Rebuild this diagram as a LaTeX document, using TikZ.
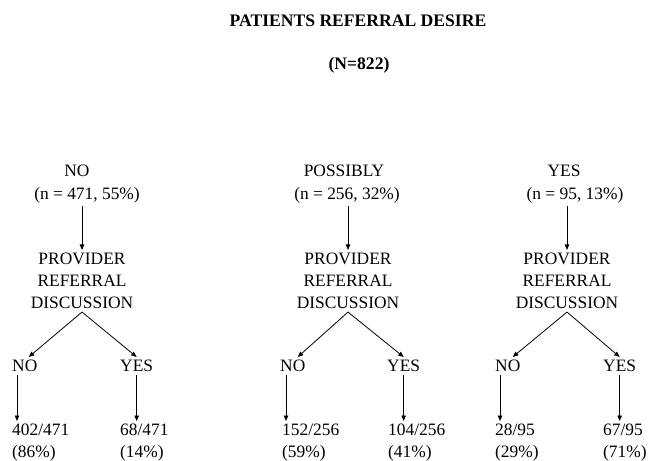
\documentclass[tikz,border=0pt]{standalone}
\usepackage{fontspec}
\setmainfont{Liberation Serif}
\usepackage{tikz}
\usetikzlibrary{arrows.meta}

\tikzset{
  txt/.style={inner sep=3pt, font=\fontsize{17.4}{22}\selectfont, align=center},
  ttl/.style={inner sep=3pt, font=\fontsize{17.6}{23}\selectfont\bfseries},
  cnt/.style={txt, align=left, anchor=north west},
  ans/.style={txt, anchor=west},
  arr/.style={line width=0.8pt, -{Triangle[length=5.5pt,width=4.5pt]}}
}

\begin{document}
\begin{tikzpicture}[x=1pt, y=-1pt]
\useasboundingbox (0,0) rectangle (649,461);

\draw (358,21) node[ttl] (title) {PATIENTS REFERRAL DESIRE} ;
\draw (359,65) node[ttl] (total) {(N=822)} ;

% desire groups
\draw (77,171) node[txt] (no) {NO} ;
\draw (87,195) node[txt] (non) {(n = 471, 55\%)} ;
\draw (344,171) node[txt] (pos) {POSSIBLY} ;
\draw (347,195) node[txt] (posn) {(n = 256, 32\%)} ;
\draw (564,171) node[txt] (yes) {YES} ;
\draw (575,195) node[txt] (yesn) {(n = 95, 13\%)} ;

% discussion
\draw (82,281) node[txt] (pno) {PROVIDER\\REFERRAL\\DISCUSSION} ;
\draw (348,281) node[txt] (ppos) {PROVIDER\\REFERRAL\\DISCUSSION} ;
\draw (567,281) node[txt] (pyes) {PROVIDER\\REFERRAL\\DISCUSSION} ;

% answers
\draw (9,366) node[ans] (nono) {NO} ;
\draw (117,366) node[ans] (noyes) {YES} ;
\draw (277,366) node[ans] (posno) {NO} ;
\draw (384,366) node[ans] (posyes) {YES} ;
\draw (492,366) node[ans] (yesno) {NO} ;
\draw (600,366) node[ans] (yesyes) {YES} ;

% counts
\draw (9,421) node[cnt] (cnono) {402/471\\(86\%)} ;
\draw (117,421) node[cnt] (cnoyes) {68/471\\(14\%)} ;
\draw (279,421) node[cnt] (cposno) {152/256\\(59\%)} ;
\draw (385,421) node[cnt] (cposyes) {104/256\\(41\%)} ;
\draw (492,421) node[cnt] (cyesno) {28/95\\(29\%)} ;
\draw (600,421) node[cnt] (cyesyes) {67/95\\(71\%)} ;

\draw[arr] (non.south -| pno) to (pno.north) ;
\draw[arr] (posn.south -| ppos) to (ppos.north) ;
\draw[arr] (yesn.south -| pyes) to (pyes.north) ;

\draw[arr] (pno.south) to ([xshift=4pt]nono.north) ;
\draw[arr] (pno.south) to (noyes.north) ;
\draw[arr] (ppos.south) to ([xshift=5pt]posno.north) ;
\draw[arr] (ppos.south) to (posyes.north) ;
\draw[arr] (pyes.south) to ([xshift=5pt]yesno.north) ;
\draw[arr] (pyes.south) to (yesyes.north) ;

\draw[arr] ([xshift=8pt]nono.south west) to ([xshift=8pt]nono.south west |- cnono.north) ;
\draw[arr] (noyes.south) to (noyes.south |- cnoyes.north) ;
\draw[arr] ([xshift=9pt]posno.south west) to ([xshift=9pt]posno.south west |- cposno.north) ;
\draw[arr] (posyes.south) to (posyes.south |- cposyes.north) ;
\draw[arr] ([xshift=8pt]yesno.south west) to ([xshift=8pt]yesno.south west |- cyesno.north) ;
\draw[arr] (yesyes.south) to (yesyes.south |- cyesyes.north) ;
\end{tikzpicture}
\end{document}
